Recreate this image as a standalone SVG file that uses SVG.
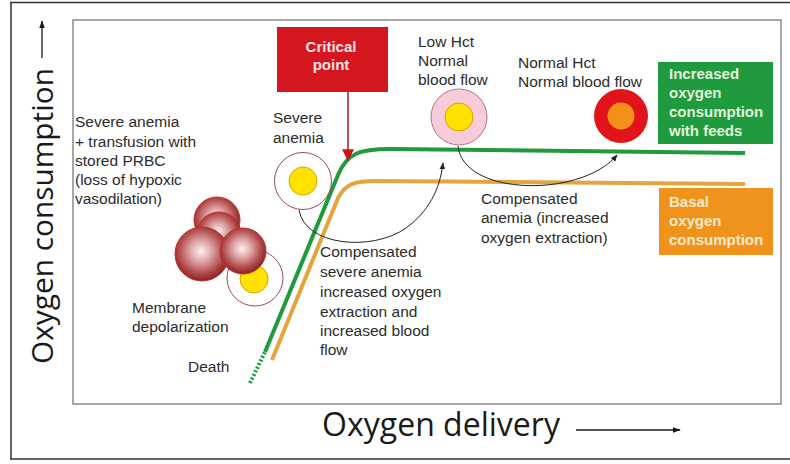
<svg xmlns="http://www.w3.org/2000/svg" width="790" height="464" viewBox="0 0 790 464">
  <defs>
    <style>
      .txt { font-family: "Liberation Sans", Arial, sans-serif; font-size: 15.5px; fill: #2b2b2b; }
      .axis { font-family: "Open Sans", "Liberation Sans", sans-serif; fill: #1a1a1a; }
      .boxtxt { font-family: "Liberation Sans", Arial, sans-serif; font-size: 15px; font-weight: bold; }
      .conn { fill: none; stroke: #222; stroke-width: 1; }
      .ring { fill: #fff; stroke: #9c4a5c; stroke-width: 1; }
      .core { fill: #ffe200; stroke: #d9a300; stroke-width: 1; }
      .sphere { fill: url(#rbc); stroke: #c62a30; stroke-width: 1; }
    </style>
    <marker id="ah" viewBox="0 0 10 10" refX="9" refY="5" markerWidth="7" markerHeight="7" orient="auto" markerUnits="userSpaceOnUse">
      <path d="M0,1 L10,5 L0,9 z" fill="#222"/>
    </marker>
    <marker id="ahRed" viewBox="0 0 10 10" refX="9" refY="5" markerWidth="12" markerHeight="12" orient="auto" markerUnits="userSpaceOnUse">
      <path d="M0,0 L10,5 L0,10 z" fill="#c8141c"/>
    </marker>
    <marker id="ahAxis" viewBox="0 0 10 10" refX="9" refY="5" markerWidth="8" markerHeight="8" orient="auto" markerUnits="userSpaceOnUse">
      <path d="M0,1.5 L10,5 L0,8.5 z" fill="#1a1a1a"/>
    </marker>
    <radialGradient id="rbc" cx="0.48" cy="0.45" r="0.55">
      <stop offset="0" stop-color="#fcf0f0"/>
      <stop offset="0.35" stop-color="#dfa8a8"/>
      <stop offset="0.75" stop-color="#b24a4a"/>
      <stop offset="1" stop-color="#882222"/>
    </radialGradient>
  </defs>

  <rect width="790" height="464" fill="#fff"/>

  <!-- outer frame -->
  <path d="M10,2.5 H790 M11,2 V459 M10,459 H790" fill="none" stroke="#333" stroke-width="1.5"/>
  <!-- plot area -->
  <rect x="73" y="20" width="708" height="384" fill="none" stroke="#8a8a8a" stroke-width="1.5"/>

  <!-- axis titles -->
  <g id="axis-y">
    <text class="axis" font-size="30" transform="translate(53,364) rotate(-90)" textLength="296" lengthAdjust="spacingAndGlyphs">Oxygen consumption</text>
    <line x1="42" y1="58" x2="42" y2="21" stroke="#1a1a1a" stroke-width="1.3" marker-end="url(#ahAxis)"/>
  </g>
  <g id="axis-x">
    <text class="axis" font-size="32" x="322" y="436" textLength="238" lengthAdjust="spacingAndGlyphs">Oxygen delivery</text>
    <line x1="576" y1="430" x2="680" y2="430" stroke="#1a1a1a" stroke-width="1.3" marker-end="url(#ahAxis)"/>
  </g>

  <!-- curves and connectors -->
  <g id="connectors">
    <path d="M250,383 L265,352" fill="none" stroke="#1f9a3c" stroke-width="4" stroke-dasharray="2,2"/>
    <path d="M265,352 L338,175 C347,153 360,149 390,149 L745,153" fill="none" stroke="#1f9a3c" stroke-width="4"/>
    <path d="M272,360 L338,198 C346,183 356,181 376,181 L745,184" fill="none" stroke="#e6a43c" stroke-width="4"/>
    <path class="conn" d="M299,210 C305,246 372,252 406,228 C428,212 440,190 443,163" marker-end="url(#ah)"/>
    <path class="conn" d="M458,146 C462,182 522,192 566,182 C592,176 608,166 617,155" marker-end="url(#ah)"/>
    <line x1="348" y1="92" x2="348" y2="160" stroke="#b5222a" stroke-width="1.6" marker-end="url(#ahRed)"/>
  </g>

  <!-- critical point -->
  <g id="critical-point">
    <rect x="277" y="27" width="111" height="65" fill="#d4161f"/>
    <text class="boxtxt" x="331" y="52" text-anchor="middle" fill="#ffe2e2">Critical</text>
    <text class="boxtxt" x="331" y="70" text-anchor="middle" fill="#ffe2e2">point</text>
  </g>

  <!-- severe anemia + transfusion -->
  <g id="severe-transfusion">
    <text class="txt" x="75" y="127">Severe anemia</text>
    <text class="txt" x="75" y="147">+ transfusion with</text>
    <text class="txt" x="75" y="166">stored PRBC</text>
    <text class="txt" x="75" y="185">(loss of hypoxic</text>
    <text class="txt" x="75" y="204">vasodilation)</text>
  </g>

  <!-- membrane depolarization: cell cluster -->
  <g id="membrane-depolarization">
    <circle class="ring" cx="255" cy="278" r="28"/>
    <circle class="core" cx="254" cy="279" r="14"/>
    <circle class="sphere" cx="217" cy="220" r="23"/>
    <circle class="sphere" cx="219" cy="234" r="22"/>
    <circle class="sphere" cx="202" cy="254" r="27"/>
    <circle class="sphere" cx="243" cy="251" r="23"/>
    <text class="txt" x="132" y="313">Membrane</text>
    <text class="txt" x="132" y="332">depolarization</text>
  </g>

  <g id="death">
    <text class="txt" x="188" y="372">Death</text>
  </g>

  <!-- severe anemia -->
  <g id="severe-anemia">
    <text class="txt" x="273" y="123">Severe</text>
    <text class="txt" x="273" y="143">anemia</text>
    <circle class="ring" cx="303" cy="181" r="28.5"/>
    <circle class="core" cx="303" cy="181" r="14"/>
  </g>

  <!-- low hct -->
  <g id="low-hct">
    <text class="txt" x="418" y="47">Low Hct</text>
    <text class="txt" x="418" y="66">Normal</text>
    <text class="txt" x="418" y="85">blood flow</text>
    <circle cx="459" cy="117" r="28" fill="#f6ccda" stroke="#b8708a" stroke-width="1"/>
    <circle class="core" cx="459" cy="117" r="14"/>
  </g>

  <!-- normal hct -->
  <g id="normal-hct">
    <text class="txt" x="518" y="68">Normal Hct</text>
    <text class="txt" x="518" y="87">Normal blood flow</text>
    <circle cx="621" cy="116" r="27" fill="#e1141b"/>
    <circle cx="621" cy="116" r="13.5" fill="#f39019"/>
  </g>

  <!-- compensated severe anemia -->
  <g id="compensated-severe">
    <text class="txt" x="320" y="257">Compensated</text>
    <text class="txt" x="320" y="277">severe anemia</text>
    <text class="txt" x="320" y="297">increased oxygen</text>
    <text class="txt" x="320" y="317">extraction and</text>
    <text class="txt" x="320" y="336">increased blood</text>
    <text class="txt" x="320" y="355">flow</text>
  </g>

  <!-- compensated anemia -->
  <g id="compensated-anemia">
    <text class="txt" x="481" y="204">Compensated</text>
    <text class="txt" x="481" y="223">anemia (increased</text>
    <text class="txt" x="481" y="243">oxygen extraction)</text>
  </g>

  <!-- legend boxes -->
  <g id="increased-consumption">
    <rect x="658" y="62" width="115" height="82" fill="#1f9a3e"/>
    <text class="boxtxt" x="669" y="79" fill="#e4f4dc">Increased</text>
    <text class="boxtxt" x="669" y="98" fill="#e4f4dc">oxygen</text>
    <text class="boxtxt" x="669" y="117" fill="#e4f4dc">consumption</text>
    <text class="boxtxt" x="669" y="136" fill="#e4f4dc">with feeds</text>
  </g>
  <g id="basal-consumption">
    <rect x="659" y="188" width="114" height="67" fill="#f0931c"/>
    <text class="boxtxt" x="669" y="207" fill="#fde9cc">Basal</text>
    <text class="boxtxt" x="669" y="226" fill="#fde9cc">oxygen</text>
    <text class="boxtxt" x="669" y="245" fill="#fde9cc">consumption</text>
  </g>
</svg>
